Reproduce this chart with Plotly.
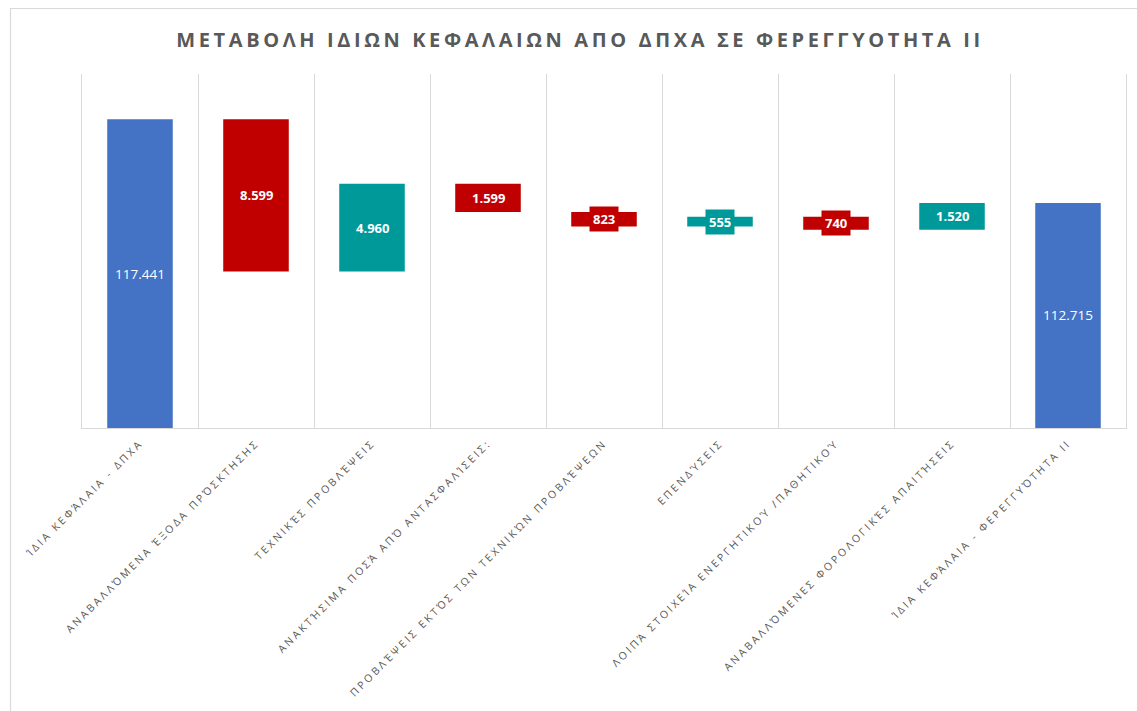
import plotly.graph_objects as go

# ---- data ----
categories = [
    "ΊΔΙΑ ΚΕΦΆΛΑΙΑ - ΔΠΧΑ",
    "ΑΝΑΒΑΛΛΌΜΕΝΑ ΈΞΟΔΑ ΠΡΌΣΚΤΗΣΗΣ",
    "ΤΕΧΝΙΚΈΣ ΠΡΟΒΛΈΨΕΙΣ",
    "ΑΝΑΚΤΉΣΙΜΑ ΠΟΣΆ ΑΠΌ ΑΝΤΑΣΦΑΛΊΣΕΙΣ:",
    "ΠΡΟΒΛΈΨΕΙΣ ΕΚΤΌΣ ΤΩΝ ΤΕΧΝΙΚΏΝ ΠΡΟΒΛΈΨΕΩΝ",
    "ΕΠΕΝΔΎΣΕΙΣ",
    "ΛΟΙΠΆ ΣΤΟΙΧΕΊΑ ΕΝΕΡΓΗΤΙΚΟΎ /ΠΑΘΗΤΙΚΟΎ",
    "ΑΝΑΒΑΛΛΌΜΕΝΕΣ ΦΟΡΟΛΟΓΙΚΈΣ ΑΠΑΙΤΉΣΕΙΣ",
    "ΊΔΙΑ ΚΕΦΆΛΑΙΑ - ΦΕΡΕΓΓΥΌΤΗΤΑ ΙΙ",
]
values = [117441, -8599, 4960, -1599, -823, 555, -740, 1520, 112715]
measures = ["absolute", "relative", "relative", "relative", "relative",
            "relative", "relative", "relative", "total"]
title_text = "ΜΕΤΑΒΟΛΗ ΙΔΙΩΝ ΚΕΦΑΛΑΙΩΝ ΑΠΟ ΔΠΧΑ ΣΕ ΦΕΡΕΓΓΥΟΤΗΤΑ ΙΙ"

BLUE = "#4472C4"
RED = "#C00000"
TEAL = "#009999"
GRID = "#D9D9D9"
TXT = "#595959"


def fmt(v):
    return f"{abs(v):,}".replace(",", ".")


fig = go.Figure(go.Waterfall(
    x=categories,
    y=[v if m != "total" else 0 for v, m in zip(values, measures)],
    measure=measures,
    width=0.565,
    increasing=dict(marker=dict(color=TEAL)),
    decreasing=dict(marker=dict(color=RED)),
    totals=dict(marker=dict(color=BLUE)),
    connector=dict(visible=False),
    hoverinfo="skip",
))

# labels at bar midpoints
annotations = []
running = 0
for cat, v, m in zip(categories, values, measures):
    if m == "absolute":
        lo, hi = 100000, v
        running = v
        annotations.append(dict(x=cat, y=(lo + hi) / 2, text=fmt(v), showarrow=False,
                                font=dict(family="Open Sans", size=13.5, color="white")))
    elif m == "total":
        lo, hi = 100000, running
        annotations.append(dict(x=cat, y=(lo + hi) / 2, text=fmt(running), showarrow=False,
                                font=dict(family="Open Sans", size=13.5, color="white")))
    else:
        start = running
        running = running + v
        col = TEAL if v > 0 else RED
        annotations.append(dict(x=cat, y=(start + running) / 2, text="<b>" + fmt(v) + "</b>",
                                showarrow=False, bgcolor=col, borderpad=3,
                                font=dict(family="Open Sans", size=13, color="white")))

L, R, T, B = 82, 11, 74, 283
W, H = 1137, 711
pw, ph = W - L - R, H - T - B
base_px = T + ph

fig.update_layout(
    width=W, height=H,
    margin=dict(l=L, r=R, t=T, b=B),
    paper_bgcolor="white", plot_bgcolor="white",
    showlegend=False,
    title=dict(text="<b>" + title_text + "</b>", x=580 / W, xanchor="center",
               y=1 - 40 / H, yanchor="middle", yref="container",
               font=dict(family="Open Sans", size=20, color=TXT)),
    xaxis=dict(
        type="category", tickson="boundaries", showgrid=True, gridcolor=GRID, gridwidth=1,
        showline=True, linecolor=GRID, linewidth=1, ticks="",
        tickangle=-45, tickfont=dict(family="Open Sans", size=10.5, color=TXT),
        ticklabelstandoff=4,
        automargin=False, fixedrange=True,
    ),
    yaxis=dict(
        range=[100000, 120000], showgrid=False, zeroline=False, showticklabels=False,
        showline=True, linecolor=GRID, linewidth=1, mirror=True, ticks="",
        automargin=False, fixedrange=True,
    ),
    annotations=annotations,
    shapes=[dict(type="rect", xref="paper", yref="paper",
                 x0=(10.5 - L) / pw, x1=(W + 20 - L) / pw,
                 y0=(base_px - (H + 20)) / ph, y1=(base_px - 8.5) / ph,
                 line=dict(color=GRID, width=1.2), fillcolor="rgba(0,0,0,0)", layer="below")],
)

css = ("body{margin:0;} "
       ".xtick text{letter-spacing:2.6px;} "
       ".gtitle{letter-spacing:3.6px;}")
post = ("var s=document.createElement('style');s.innerHTML='" + css + "';"
        "document.head.appendChild(s);")

fig.write_html("out.html", post_script=post, config={"displayModeBar": False})
